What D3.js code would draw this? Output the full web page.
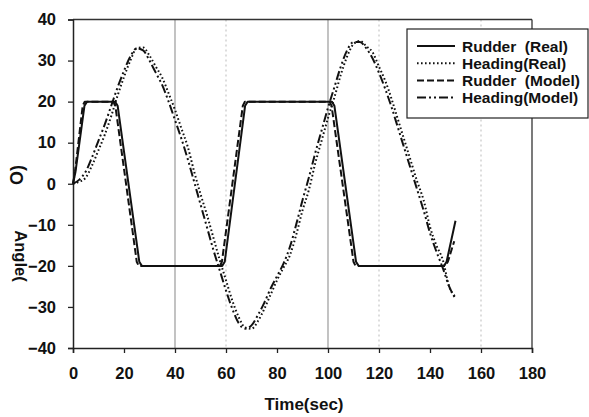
<!DOCTYPE html>
<html><head><meta charset="utf-8">
<script src="https://cdn.jsdelivr.net/npm/d3@7/dist/d3.min.js"></script>
<style>body{margin:0;background:#fff}svg text{font-family:"Liberation Sans",Arial,sans-serif;font-weight:bold}</style>
</head><body><svg id="c" width="589" height="417"></svg>
<script>
const xTicks = [0,20,40,60,80,100,120,140,160,180];
const yTicks = [-40,-30,-20,-10,0,10,20,30,40];
const seriesNames = ["Rudder  (Real)","Heading(Real)","Rudder  (Model)","Heading(Model)"];

const rudderRealT = [0,1,4.5,5.5,16.5,17.5,26,27,58.5,59.5,67.5,68.5,101.5,102.5,111,112,145.5,146.5,150];
const rudderRealV = [0,3,19,20,20,19,-19,-20,-20,-19,19,20,20,19,-19,-20,-20,-19,-9];
const rudderModelT = [0,0.8,3.8,4.6,15.8,16.6,25,25.8,57.6,58.4,66.6,67.4,100.6,101.4,110,110.8,146,147,149.5];
const rudderModelV = [0,3,19,20,20,19,-19,-20,-20,-19,19,20,20,19,-19,-20,-20,-19,-14];

const headingT = [0,2.5,5,7.5,10,12.5,15,17.5,20,22.5,25,27.5,30,32.5,35,37.5,40,42.5,45,47.5,50,52.5,55,57.5,60,62.5,65,67.5,70,72.5,75,77.5,80,82.5,85,87.5,90,92.5,95,97.5,100,102.5,105,107.5,110,112.5,115,117.5,120,122.5,125,127.5,130,132.5,135,137.5,140,142.5,145,147.5,150];
const headingReal = [0,0.5,1.5,4.5,8.2,12,16.5,21.5,26,30,33,33.2,31.2,28.5,25.8,22,18,13.5,9,3,-2.5,-7.5,-13,-18.5,-23.5,-28.5,-32.5,-35,-35.3,-33.5,-30.5,-27,-23.5,-20.5,-17.5,-12.5,-6.5,-1.5,5,10.5,16,21,26.5,31,34,34.8,33.5,32,28.5,25,20.5,15.5,10.5,5.5,0.5,-4,-10.5,-15,-18.5,-25,-27.5];
const headingModel = [0,1,3,6.5,10.5,14.5,19,23.5,27.5,31,33,32.5,30,27,24,20,15.5,11,6,0.5,-5,-10.5,-16,-21,-26,-30.5,-34,-35.3,-34.5,-32,-29,-25.5,-22.5,-19.5,-15.5,-10,-4,1.5,7.5,13,18.5,23.5,28.5,32.5,34.5,34.5,33,30.5,27,23,18.5,13.5,8.5,3.5,-1.5,-6.5,-12,-16.5,-20.5,-25,-28];

const svg = d3.select("#c");
const L=73,R=532,T=19.5,B=348;
const x = d3.scaleLinear().domain([0,180]).range([L,R]);
const y = d3.scaleLinear().domain([-40,40]).range([B,T]);

// grid
const g = svg.append("g");
[40,100].forEach(v=>g.append("line").attr("x1",x(v)).attr("x2",x(v)).attr("y1",T).attr("y2",B).attr("stroke","#9a9a9a").attr("stroke-width",1.2));
[60,120,160].forEach(v=>g.append("line").attr("x1",x(v)).attr("x2",x(v)).attr("y1",T).attr("y2",B).attr("stroke","#bbb").attr("stroke-width",1).attr("stroke-dasharray","2,3"));

// frame
svg.append("line").attr("x1",L).attr("x2",R).attr("y1",T).attr("y2",T).attr("stroke","#333").attr("stroke-width",1.3);
svg.append("line").attr("x1",R).attr("x2",R).attr("y1",T).attr("y2",B).attr("stroke","#333").attr("stroke-width",1.3);

// axes
const xa = svg.append("g").attr("transform",`translate(0,${B})`).call(d3.axisBottom(x).tickValues(xTicks).tickSize(5).tickPadding(14));
const ya = svg.append("g").attr("transform",`translate(${L},0)`).call(d3.axisLeft(y).tickValues(yTicks).tickSize(5).tickPadding(12));
[xa,ya].forEach(a=>{a.select(".domain").attr("stroke","#222").attr("stroke-width",1.5);a.selectAll(".tick line").attr("stroke","#222").attr("stroke-width",1.3);a.selectAll("text").attr("font-size",16.5).attr("fill","#111").attr("font-family","Liberation Sans, Arial").attr("font-weight","bold");});

// series
const line = d3.line().x(d=>x(d[0])).y(d=>y(d[1]));
const styles = [
  {w:2,dash:null},
  {w:2,dash:"1.6,2.4"},
  {w:2,dash:"7,3"},
  {w:2,dash:"9,3,2,3,2,3"}
];
const data = [
  rudderRealT.map((t,i)=>[t,rudderRealV[i]]),
  headingT.map((t,i)=>[t,headingReal[i]]),
  rudderModelT.map((t,i)=>[t,rudderModelV[i]]),
  headingT.map((t,i)=>[t,headingModel[i]])
];
const lineC = d3.line().x(d=>x(d[0])).y(d=>y(d[1])).curve(d3.curveMonotoneX);
data.forEach((d,i)=>{
  svg.append("path").attr("d",(i%2===1?lineC:line)(d)).attr("fill","none").attr("stroke","#111")
    .attr("stroke-width",styles[i].w).attr("stroke-dasharray",styles[i].dash).attr("stroke-linejoin","round");
});

// legend
const lg = svg.append("g");
lg.append("rect").attr("x",407).attr("y",29).attr("width",181).attr("height",89).attr("fill","#fff").attr("stroke","#222").attr("stroke-width",1.2);
seriesNames.forEach((n,i)=>{
  const yy = 46 + i*17.2;
  lg.append("line").attr("x1",417).attr("x2",455).attr("y1",yy).attr("y2",yy).attr("stroke","#111").attr("stroke-width",2).attr("stroke-dasharray",styles[i].dash);
  lg.append("text").attr("x",462).attr("y",yy+5.5).attr("font-size",15.5).attr("fill","#111").style("white-space","pre").text(n);
});

// axis titles
svg.append("text").attr("x",304).attr("y",410).attr("text-anchor","middle").attr("font-size",17).attr("fill","#111").text("Time(sec)");
svg.append("text").attr("transform","translate(15,256) rotate(90)").attr("text-anchor","middle").attr("font-size",16.5).attr("fill","#111").text("Angle(");
svg.append("text").attr("transform","translate(23,175) rotate(-90)").attr("text-anchor","middle").attr("font-size",18).attr("fill","#111").text("O)");
</script></body></html>
